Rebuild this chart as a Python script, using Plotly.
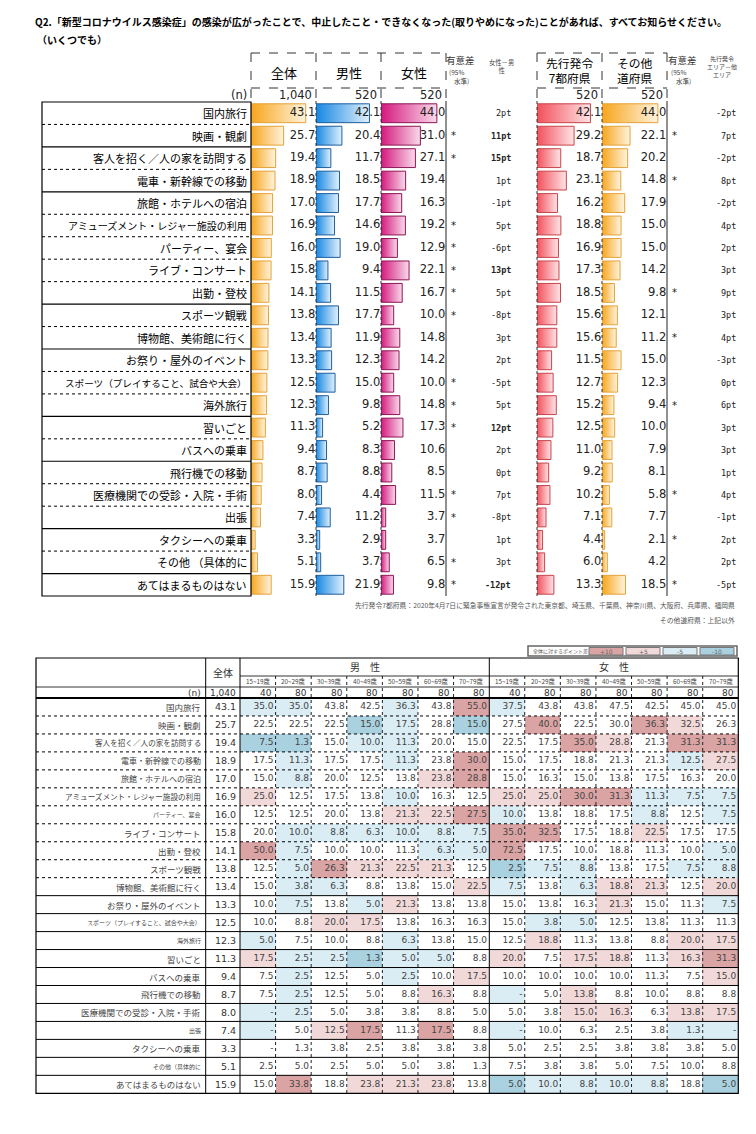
import plotly.graph_objects as go

# ---------------- data (top: bar table) ----------------
items_top = ["国内旅行", "映画・観劇", "客人を招く／人の家を訪問する", "電車・新幹線での移動", "旅館・ホテルへの宿泊",
             "アミューズメント・レジャー施設の利用", "パーティー、宴会", "ライブ・コンサート", "出勤・登校", "スポーツ観戦",
             "博物館、美術館に行く", "お祭り・屋外のイベント", "スポーツ（プレイすること、試合や大会）", "海外旅行", "習いごと",
             "バスへの乗車", "飛行機での移動", "医療機関での受診・入院・手術", "出張", "タクシーへの乗車",
             "その他 （具体的に", "あてはまるものはない"]
total = [43.1, 25.7, 19.4, 18.9, 17.0, 16.9, 16.0, 15.8, 14.1, 13.8, 13.4, 13.3, 12.5, 12.3, 11.3, 9.4, 8.7, 8.0, 7.4, 3.3, 5.1, 15.9]
male = [42.1, 20.4, 11.7, 18.5, 17.7, 14.6, 19.0, 9.4, 11.5, 17.7, 11.9, 12.3, 15.0, 9.8, 5.2, 8.3, 8.8, 4.4, 11.2, 2.9, 3.7, 21.9]
female = [44.0, 31.0, 27.1, 19.4, 16.3, 19.2, 12.9, 22.1, 16.7, 10.0, 14.8, 14.2, 10.0, 14.8, 17.3, 10.6, 8.5, 11.5, 3.7, 3.7, 6.5, 9.8]
gender_sig = [0, 1, 1, 0, 0, 1, 1, 1, 1, 1, 0, 0, 1, 1, 1, 0, 0, 1, 1, 0, 1, 1]
gender_pt = [2, 11, 15, 1, -1, 5, -6, 13, 5, -8, 3, 2, -5, 5, 12, 2, 0, 7, -8, 1, 3, -12]
pref7 = [42.1, 29.2, 18.7, 23.1, 16.2, 18.8, 16.9, 17.3, 18.5, 15.6, 15.6, 11.5, 12.7, 15.2, 12.5, 11.0, 9.2, 10.2, 7.1, 4.4, 6.0, 13.3]
other_pref = [44.0, 22.1, 20.2, 14.8, 17.9, 15.0, 15.0, 14.2, 9.8, 12.1, 11.2, 15.0, 12.3, 9.4, 10.0, 7.9, 8.1, 5.8, 7.7, 2.1, 4.2, 18.5]
area_sig = [0, 1, 0, 1, 0, 0, 0, 0, 1, 0, 1, 0, 0, 1, 0, 0, 0, 1, 0, 1, 0, 1]
area_pt = [-2, 7, -2, 8, -2, 4, 2, 3, 9, 3, 4, -3, 0, 6, 3, 3, 1, 4, -1, 2, 2, -5]
top_cols = ["全体", "男性", "女性"]
top_n = ["1,040", "520", "520"]
area_cols = ["先行発令<br>7都府県", "その他<br>道府県"]
area_n = ["520", "520"]

# ---------------- data (bottom: age heat table) ----------------
items_bottom = ["国内旅行", "映画・観劇", "客人を招く／人の家を訪問する", "電車・新幹線での移動", "旅館・ホテルへの宿泊",
                "アミューズメント・レジャー施設の利用", "パーティー、宴会", "ライブ・コンサート", "出勤・登校", "スポーツ観戦",
                "博物館、美術館に行く", "お祭り・屋外のイベント", "スポーツ（プレイすること、試合や大会）", "海外旅行", "習いごと",
                "バスへの乗車", "飛行機での移動", "医療機関での受診・入院・手術", "出張", "タクシーへの乗車",
                "その他（具体的に", "あてはまるものはない"]
age_labels = ["15~19歳", "20~29歳", "30~39歳", "40~49歳", "50~59歳", "60~69歳", "70~79歳"]
male_n = [40, 80, 80, 80, 80, 80, 80]
female_n = [40, 80, 80, 80, 80, 80, 80]
male_age = [
    [35.0, 35.0, 43.8, 42.5, 36.3, 43.8, 55.0],
    [22.5, 22.5, 22.5, 15.0, 17.5, 28.8, 15.0],
    [7.5, 1.3, 15.0, 10.0, 11.3, 20.0, 15.0],
    [17.5, 11.3, 17.5, 17.5, 11.3, 23.8, 30.0],
    [15.0, 8.8, 20.0, 12.5, 13.8, 23.8, 28.8],
    [25.0, 12.5, 17.5, 13.8, 10.0, 16.3, 12.5],
    [12.5, 12.5, 20.0, 13.8, 21.3, 22.5, 27.5],
    [20.0, 10.0, 8.8, 6.3, 10.0, 8.8, 7.5],
    [50.0, 7.5, 10.0, 10.0, 11.3, 6.3, 5.0],
    [12.5, 5.0, 26.3, 21.3, 22.5, 21.3, 12.5],
    [15.0, 3.8, 6.3, 8.8, 13.8, 15.0, 22.5],
    [10.0, 7.5, 13.8, 5.0, 21.3, 13.8, 13.8],
    [10.0, 8.8, 20.0, 17.5, 13.8, 16.3, 16.3],
    [5.0, 7.5, 10.0, 8.8, 6.3, 13.8, 15.0],
    [17.5, 2.5, 2.5, 1.3, 5.0, 5.0, 8.8],
    [7.5, 2.5, 12.5, 5.0, 2.5, 10.0, 17.5],
    [7.5, 2.5, 12.5, 5.0, 8.8, 16.3, 8.8],
    [None, 2.5, 5.0, 3.8, 3.8, 8.8, 5.0],
    [None, 5.0, 12.5, 17.5, 11.3, 17.5, 8.8],
    [None, 1.3, 3.8, 2.5, 3.8, 3.8, 3.8],
    [2.5, 5.0, 2.5, 5.0, 5.0, 3.8, 1.3],
    [15.0, 33.8, 18.8, 23.8, 21.3, 23.8, 13.8],
]
female_age = [
    [37.5, 43.8, 43.8, 47.5, 42.5, 45.0, 45.0],
    [27.5, 40.0, 22.5, 30.0, 36.3, 32.5, 26.3],
    [22.5, 17.5, 35.0, 28.8, 21.3, 31.3, 31.3],
    [15.0, 17.5, 18.8, 21.3, 21.3, 12.5, 27.5],
    [15.0, 16.3, 15.0, 13.8, 17.5, 16.3, 20.0],
    [25.0, 25.0, 30.0, 31.3, 11.3, 7.5, 7.5],
    [10.0, 13.8, 18.8, 17.5, 8.8, 12.5, 7.5],
    [35.0, 32.5, 17.5, 18.8, 22.5, 17.5, 17.5],
    [72.5, 17.5, 10.0, 18.8, 11.3, 10.0, 5.0],
    [2.5, 7.5, 8.8, 13.8, 17.5, 7.5, 8.8],
    [7.5, 13.8, 6.3, 18.8, 21.3, 12.5, 20.0],
    [15.0, 13.8, 16.3, 21.3, 15.0, 11.3, 7.5],
    [15.0, 3.8, 5.0, 12.5, 13.8, 11.3, 11.3],
    [12.5, 18.8, 11.3, 13.8, 8.8, 20.0, 17.5],
    [20.0, 7.5, 17.5, 18.8, 11.3, 16.3, 31.3],
    [10.0, 10.0, 10.0, 10.0, 11.3, 7.5, 15.0],
    [None, 5.0, 13.8, 8.8, 10.0, 8.8, 8.8],
    [5.0, 3.8, 15.0, 16.3, 6.3, 13.8, 17.5],
    [None, 10.0, 6.3, 2.5, 3.8, 1.3, None],
    [5.0, 2.5, 2.5, 3.8, 3.8, 3.8, 5.0],
    [7.5, 3.8, 3.8, 5.0, 7.5, 10.0, 8.8],
    [5.0, 10.0, 8.8, 10.0, 8.8, 18.8, 5.0],
]
legend_labels = ["+10", "+5", "-5", "-10"]

# ---------------- geometry / styles ----------------
W, H, OFF = 740, 1118, 8
def px(x): return (x - OFF) / W
def py(y): return 1 - (y - OFF) / H

JP = "Noto Sans CJK JP"
NUM = "DejaVu Sans"
MONO = "DejaVu Sans Mono"
XMAX = 51.2
TXT_X = 50.6
BAR_HH = 0.42
top_sep_solid = [0, 1, 0, 1, 0, 0, 0, 0, 1, 0, 1, 0, 0, 1, 0, 1, 0, 0, 1, 0, 1]
top_label_size = [11] * 22
top_label_size[5] = 10
top_label_size[12] = 9.6
bot_label_size = [8.5] * 22
for k in (2, 5):
    bot_label_size[k] = 7.6
for k in (3, 4):
    bot_label_size[k] = 8
for k in (6, 12, 13, 18, 20):
    bot_label_size[k] = 6

fig = go.Figure()
shapes, anns = [], []

def L(x0, y0, x1, y1, dash="solid", w=1, c="#000"):
    shapes.append(dict(type="line", xref="paper", yref="paper", x0=px(x0), y0=py(y0), x1=px(x1), y1=py(y1),
                       line=dict(color=c, width=w, dash=dash), layer="above"))

def LH(x0, x1, yv, yref, dash="solid", w=1, c="#000"):
    shapes.append(dict(type="line", xref="paper", yref=yref, x0=px(x0), x1=px(x1), y0=yv, y1=yv,
                       line=dict(color=c, width=w, dash=dash), layer="above"))

def T(text, x, y, size, anchor="center", family=JP, color="#000", yref="paper"):
    anns.append(dict(text=text, x=px(x), xref="paper", y=(py(y) if yref == "paper" else y), yref=yref,
                     xanchor=anchor, yanchor="middle", showarrow=False,
                     font=dict(family=family, size=size, color=color)))

# ---------------- top bar columns ----------------
bar_series = [
    (total, "x", "#F7A51C", "#FFF4DE", "#E3A23A"),
    (male, "x2", "#1687E2", "#E2F1FC", "#1D5E9C"),
    (female, "x3", "#D4187D", "#F9DAEB", "#8C1656"),
    (pref7, "x4", "#F2505B", "#FFE4E6", "#C8444B"),
    (other_pref, "x5", "#F7A51C", "#FFF4DE", "#E3A23A"),
]
for vals, xa, c0, c1, bc in bar_series:
    for i, v in enumerate(vals):
        fig.add_trace(go.Scatter(
            x=[0, v, v, 0, 0], y=[i - BAR_HH, i - BAR_HH, i + BAR_HH, i + BAR_HH, i - BAR_HH],
            mode="lines", fill="toself",
            fillgradient=dict(type="horizontal", colorscale=[[0, c0], [1, c1]]),
            line=dict(color=bc, width=1), hoverinfo="skip", showlegend=False,
            xaxis=xa, yaxis="y"))
    fig.add_trace(go.Scatter(
        x=[TXT_X] * len(vals), y=list(range(len(vals))), mode="text",
        text=[f"{v:.1f}" for v in vals], textposition="middle left",
        textfont=dict(family=NUM, size=11.5, color="#222"), cliponaxis=False,
        hoverinfo="skip", showlegend=False, xaxis=xa, yaxis="y"))

# labels, stars, pt
for i, lab in enumerate(items_top):
    T(lab, 249, i, top_label_size[i], "right", JP, "#000", "y")
    if gender_sig[i]:
        T("*", 453, i, 10, "center", NUM, "#222", "y")
    d = gender_pt[i]
    t = f"{d}pt"
    if abs(d) >= 10:
        t = f"<b>{t}</b>"
    T(t, 513, i, 8.5, "right", MONO, "#222", "y")
    if area_sig[i]:
        T("*", 674, i, 10, "center", NUM, "#222", "y")
    T(f"{area_pt[i]}pt", 738, i, 8.5, "right", MONO, "#222", "y")

# top headers
T("<b>Q2.「新型コロナウイルス感染症」の感染が広がったことで、中止したこと・できなくなった(取りやめになった)ことがあれば、すべてお知らせください。</b>",
  33, 22, 10, "left", JP, "#000")
T("<b>（いくつでも）</b>", 35, 40, 10, "left", JP, "#000")
for k, (nm, nv) in enumerate(zip(top_cols, top_n)):
    x0 = [251, 316, 381][k]
    T(nm, x0 + 32.5, 72, 13, "center", JP, "#000")
    T(nv, x0 + 63, 95.5, 11.5, "right", NUM, "#222")
T("(n)", 249, 95.5, 11.5, "right", NUM, "#222")
for k, (nm, nv) in enumerate(zip(area_cols, area_n)):
    x0 = [537, 602][k]
    T(nm, x0 + 32.5, 70, 11.8, "center", JP, "#000")
    T(nv, x0 + 63, 95.5, 11.5, "right", NUM, "#222")
for xc in (460, 682):
    T("有意差", xc, 60, 9.5, "center", JP, "#333")
    T("(95%", xc - 4, 72, 6.5, "center", JP, "#444")
    T("水準)", xc + 1, 81, 6.5, "center", JP, "#444")
T("女性－男<br>性", 502, 67, 6.3, "center", JP, "#444")
T("先行発令<br>エリア－他<br>エリア", 722, 67, 6, "center", JP, "#444")
T("先行発令7都府県：2020年4月7日に緊急事態宣言が発令された東京都、埼玉県、千葉県、神奈川県、大阪府、兵庫県、福岡県",
  737, 605, 6.8, "right", JP, "#555")
T("その他道府県：上記以外", 737, 620, 6.8, "right", JP, "#555")

# top lines
for (a, b, mids) in ((251, 446, (316, 381)), (537, 667, (602,))):
    L(a, 53, b, 53, "dash", 1, "#333")
    L(a, 88, b, 88, "dash", 1, "#333")
    for xv in (a, b) + mids:
        L(xv, 53, xv, 101, "dash", 1, "#333")
for xv in (316, 381, 537, 602):
    L(xv, 101, xv, 596, "dot", 1, "#333")
L(446, 101, 446, 596, "solid", 1, "#222")
L(667, 101, 667, 596, "solid", 1, "#222")
shapes.append(dict(type="rect", xref="paper", yref="paper", x0=px(42), x1=px(251), y0=py(596), y1=py(102),
                   line=dict(color="#000", width=1.2), layer="above"))
for i, s in enumerate(top_sep_solid):
    LH(42, 251, i + 0.5, "y", "solid" if s else "dot", 1.2 if s else 1, "#000")

# ---------------- bottom heat table ----------------
def cls(v, base):
    d = (0 if v is None else v) - base
    if d >= 10: return 2
    if d >= 5: return 1
    if d <= -10: return -2
    if d <= -5: return -1
    return 0

z, cx, cy, ct = [], [], [], []
for i in range(len(items_bottom)):
    row_vals = male_age[i] + female_age[i]
    z.append([cls(v, total[i]) for v in row_vals])
    for j, v in enumerate(row_vals):
        cx.append(j + 0.44)
        cy.append(i)
        ct.append("-" if v is None else f"{v:.1f}")

heat_cols = ["#A9D1DF", "#DAEDF4", "#FFFFFF", "#F2D9D9", "#DBA4A4"]
cs = []
for k, c in enumerate(heat_cols):
    cs += [[k / 5, c], [(k + 1) / 5, c]]
fig.add_trace(go.Heatmap(z=z, x=list(range(14)), y=list(range(22)), colorscale=cs, zmin=-2.5, zmax=2.5,
                         showscale=False, hoverinfo="skip", xaxis="x6", yaxis="y2"))
fig.add_trace(go.Scatter(x=cx, y=cy, mode="text", text=ct, textposition="middle left",
                         textfont=dict(family=NUM, size=9, color="#444"), cliponaxis=False,
                         hoverinfo="skip", showlegend=False, xaxis="x6", yaxis="y2"))

for i, lab in enumerate(items_bottom):
    T(lab, 203, i, bot_label_size[i], "right", JP, "#444", "y2")
    T(f"{total[i]:.1f}", 238, i, 9.5, "right", NUM, "#333", "y2")

CW = (738.3 - 240) / 14
T("全体", 223, 672, 10, "center", JP, "#333")
T("男　性", 240 + 3.5 * CW, 666, 10, "center", JP, "#333")
T("女　性", 240 + 10.5 * CW, 666, 10, "center", JP, "#333")
T("(n)", 203, 692.5, 9, "right", NUM, "#333")
T("1,040", 238, 692.5, 9, "right", NUM, "#333")
for j in range(14):
    lab = age_labels[j % 7]
    nv = (male_n + female_n)[j]
    T(lab, 240 + (j + 0.5) * CW, 681.5, 6.3, "center", JP, "#444")
    T(str(nv), 240 + (j + 1) * CW - 2, 692.5, 9, "right", NUM, "#333")

shapes.append(dict(type="rect", xref="paper", yref="paper", x0=px(36), x1=px(738.3), y0=py(1093.3), y1=py(658),
                   line=dict(color="#000", width=1.2), layer="above"))
for xv in (205.7, 240, 489.3):
    L(xv, 658, xv, 1093.3, "solid", 1, "#000")
for j in range(1, 14):
    if j != 7:
        L(240 + j * CW, 676, 240 + j * CW, 1093.3, "dot", 1, "#222")
L(240, 676, 738.3, 676, "solid", 0.8, "#000")
L(36, 687, 738.3, 687, "solid", 0.8, "#000")
L(36, 698, 738.3, 698, "solid", 2, "#000")
for i in range(21):
    LH(36, 738.3, i + 0.5, "y2", "dot" if i < 10 else "solid", 1, "#000")

# legend of heat colours
shapes.append(dict(type="rect", xref="paper", yref="paper", x0=px(528), x1=px(737), y0=py(656), y1=py(646),
                   line=dict(color="#666", width=1.5), fillcolor="#FFFFFF", layer="above"))
T("全体に対するポイント差", 531, 651, 5, "left", JP, "#555")
leg_cols = [heat_cols[4], heat_cols[3], heat_cols[1], heat_cols[0]]
for k, (lab, col) in enumerate(zip(legend_labels, leg_cols)):
    x0 = 589 + k * 37
    shapes.append(dict(type="rect", xref="paper", yref="paper", x0=px(x0), x1=px(x0 + 34), y0=py(655), y1=py(647.5),
                       line=dict(color="#777", width=1), fillcolor=col, layer="above"))
    T(lab, x0 + 17, 651.3, 6, "center", NUM, "#666")

# ---------------- layout ----------------
ax_common = dict(visible=False, fixedrange=True)
top_dom = [px(x) for x in (251, 316, 381, 446, 537, 602, 667)]
fig.update_layout(
    width=W, height=H, margin=dict(l=0, r=0, t=0, b=0),
    template="none", paper_bgcolor="white", plot_bgcolor="white",
    showlegend=False, hovermode=False,
    xaxis=dict(domain=[top_dom[0], top_dom[1]], range=[0, XMAX], anchor="y", **ax_common),
    xaxis2=dict(domain=[top_dom[1], top_dom[2]], range=[0, XMAX], anchor="y", **ax_common),
    xaxis3=dict(domain=[top_dom[2], top_dom[3]], range=[0, XMAX], anchor="y", **ax_common),
    xaxis4=dict(domain=[top_dom[4], top_dom[5]], range=[0, XMAX], anchor="y", **ax_common),
    xaxis5=dict(domain=[top_dom[5], top_dom[6]], range=[0, XMAX], anchor="y", **ax_common),
    yaxis=dict(domain=[py(596), py(102)], range=[21.5, -0.5], anchor="x", **ax_common),
    xaxis6=dict(domain=[px(240), px(738.3)], range=[-0.5, 13.5], anchor="y2", **ax_common),
    yaxis2=dict(domain=[py(1093.3), py(698)], range=[21.5, -0.5], anchor="x6", **ax_common),
    shapes=shapes, annotations=anns,
)
fig.write_html("out.html")
